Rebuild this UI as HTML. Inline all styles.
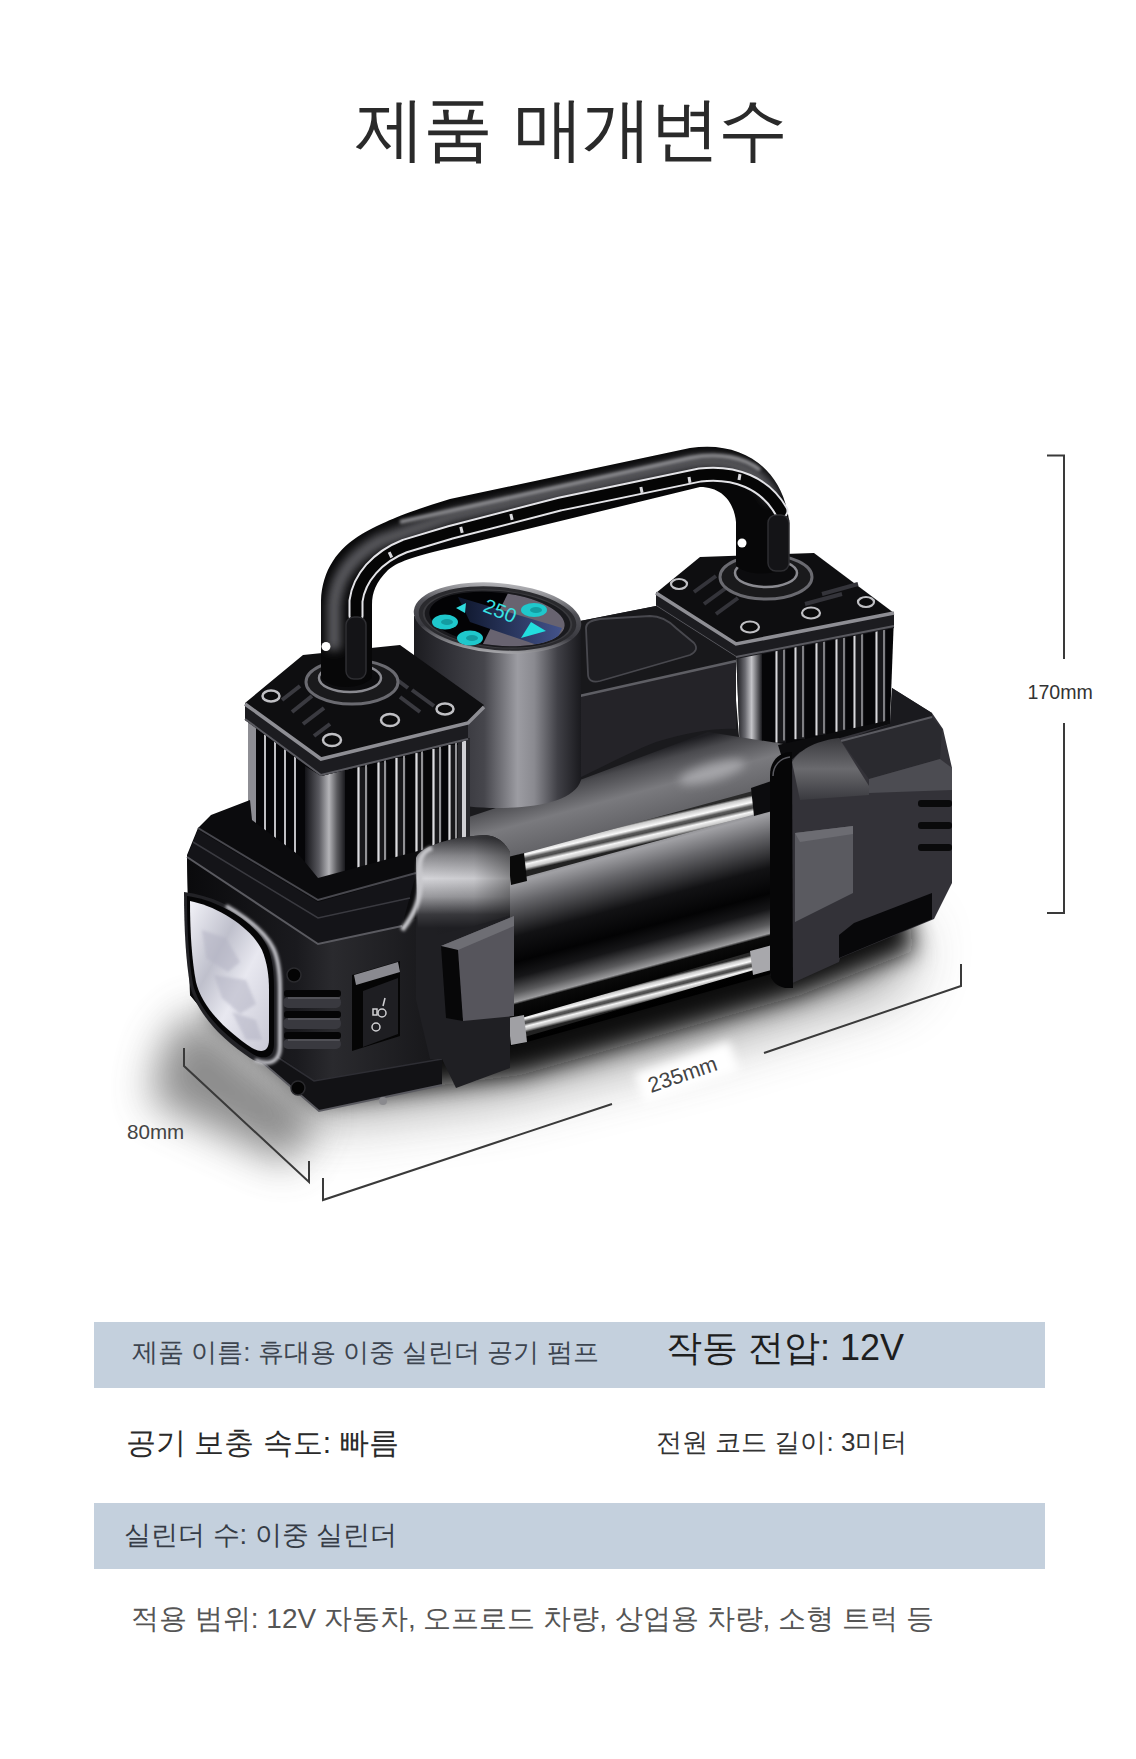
<!DOCTYPE html>
<html><head><meta charset="utf-8">
<style>
html,body{margin:0;padding:0;background:#fff;}
body{width:1136px;height:1759px;position:relative;overflow:hidden;font-family:"Liberation Sans",sans-serif;}
.t{position:absolute;white-space:nowrap;line-height:1;}
#title{left:355px;top:94px;font-size:70px;color:#2a2a2a;letter-spacing:-2px;word-spacing:6px;}
.band{position:absolute;left:94px;width:951px;height:66px;background:#c4d0dd;}
#svg{position:absolute;left:0;top:0;}
</style></head><body>
<svg id="svg" width="1136" height="1759" viewBox="0 0 1136 1759">
<defs>
 <filter id="blur20" x="-50%" y="-50%" width="200%" height="200%"><feGaussianBlur stdDeviation="20"/></filter>
 <filter id="blur30" x="-50%" y="-50%" width="200%" height="200%"><feGaussianBlur stdDeviation="30"/></filter>
 <filter id="blur12" x="-50%" y="-50%" width="200%" height="200%"><feGaussianBlur stdDeviation="12"/></filter>
 <filter id="blur5" x="-50%" y="-50%" width="200%" height="200%"><feGaussianBlur stdDeviation="5"/></filter>
 <filter id="blur2" x="-20%" y="-20%" width="140%" height="140%"><feGaussianBlur stdDeviation="1.5"/></filter>
 <linearGradient id="gGauge" x1="414" y1="0" x2="581" y2="0" gradientUnits="userSpaceOnUse">
  <stop offset="0" stop-color="#1c1c20"/><stop offset="0.2" stop-color="#303036"/><stop offset="0.42" stop-color="#46464c"/>
  <stop offset="0.62" stop-color="#9c9ca2"/><stop offset="0.72" stop-color="#8a8a90"/>
  <stop offset="0.86" stop-color="#404046"/><stop offset="1" stop-color="#1a1a1e"/>
 </linearGradient>
 <linearGradient id="gBezel" x1="0" y1="583" x2="0" y2="653" gradientUnits="userSpaceOnUse">
  <stop offset="0" stop-color="#b4b4b8"/><stop offset="0.35" stop-color="#505056"/><stop offset="0.7" stop-color="#3a3a40"/><stop offset="1" stop-color="#a8a8ac"/>
 </linearGradient>
 <linearGradient id="gPost" x1="0" y1="0" x2="1" y2="0">
  <stop offset="0" stop-color="#bbbbbf"/><stop offset="0.25" stop-color="#333338"/><stop offset="0.6" stop-color="#0c0c0e"/><stop offset="1" stop-color="#2a2a2e"/>
 </linearGradient>
 <pattern id="pFinsR" width="200" height="200" patternUnits="userSpaceOnUse" x="0" y="0">
  <rect width="200" height="200" fill="#070709"/>
 </pattern>
 <linearGradient id="gCyl" x1="615" y1="760" x2="680" y2="1000" gradientUnits="userSpaceOnUse">
  <stop offset="0" stop-color="#1e1e22"/><stop offset="0.05" stop-color="#4a4a4e"/><stop offset="0.15" stop-color="#7a7a7e"/>
  <stop offset="0.3" stop-color="#5e5e62"/><stop offset="0.37" stop-color="#a0a0a4"/><stop offset="0.45" stop-color="#66666a"/>
  <stop offset="0.58" stop-color="#121214"/><stop offset="0.68" stop-color="#030304"/><stop offset="0.74" stop-color="#161618"/>
  <stop offset="0.8" stop-color="#5a5a5c"/><stop offset="0.835" stop-color="#9a9a9c"/><stop offset="0.845" stop-color="#0a0a0a"/><stop offset="0.9" stop-color="#030303"/><stop offset="1" stop-color="#000"/>
 </linearGradient>
 <linearGradient id="gRod" x1="0" y1="0" x2="0" y2="1">
  <stop offset="0" stop-color="#444"/><stop offset="0.2" stop-color="#f0f0f0"/><stop offset="0.45" stop-color="#8a8a8a"/><stop offset="0.65" stop-color="#f8f8f8"/><stop offset="1" stop-color="#2a2a2a"/>
 </linearGradient>
 <linearGradient id="gHandle" x1="0" y1="440" x2="0" y2="560" gradientUnits="userSpaceOnUse">
  <stop offset="0" stop-color="#0a0a0b"/><stop offset="0.3" stop-color="#3a3a3e"/><stop offset="0.55" stop-color="#0a0a0b"/><stop offset="1" stop-color="#050505"/>
 </linearGradient>
 <linearGradient id="gLight" x1="0" y1="0" x2="1" y2="1">
  <stop offset="0" stop-color="#f2f2f8"/><stop offset="0.35" stop-color="#bfc0cc"/><stop offset="0.6" stop-color="#e8e8f0"/><stop offset="1" stop-color="#c8c8d4"/>
 </linearGradient>
 <linearGradient id="gFront" x1="187" y1="0" x2="430" y2="0" gradientUnits="userSpaceOnUse">
  <stop offset="0" stop-color="#0a0a0c"/><stop offset="0.45" stop-color="#1a1a1e"/><stop offset="0.6" stop-color="#2a2a2e"/><stop offset="1" stop-color="#18181b"/>
 </linearGradient>
 <linearGradient id="gBrkTop" x1="0" y1="838" x2="0" y2="928" gradientUnits="userSpaceOnUse">
  <stop offset="0" stop-color="#3a3a3e"/><stop offset="0.2" stop-color="#8a8a8e"/><stop offset="0.45" stop-color="#d4d4d8"/><stop offset="0.65" stop-color="#9a9a9e"/><stop offset="0.85" stop-color="#3a3a3e"/><stop offset="1" stop-color="#1f1f23"/>
 </linearGradient>
 <linearGradient id="gBrkShade" x1="420" y1="0" x2="510" y2="0" gradientUnits="userSpaceOnUse">
  <stop offset="0" stop-color="#000" stop-opacity="0"/><stop offset="0.6" stop-color="#000" stop-opacity="0.05"/><stop offset="1" stop-color="#000" stop-opacity="0.35"/>
 </linearGradient>
 <linearGradient id="gBrkR" x1="0" y1="738" x2="0" y2="800" gradientUnits="userSpaceOnUse">
  <stop offset="0" stop-color="#3a3a3e"/><stop offset="0.5" stop-color="#6a6a6e"/><stop offset="1" stop-color="#3a3a3f"/>
 </linearGradient>
 <linearGradient id="gShadow" x1="0" y1="0" x2="0" y2="1">
  <stop offset="0" stop-color="#000"/><stop offset="1" stop-color="#000" stop-opacity="0"/>
 </linearGradient>
<linearGradient id="gRodU" x1="633.6" y1="822.5" x2="638.8" y2="845" gradientUnits="userSpaceOnUse">
  <stop offset="0" stop-color="#2a2a2a"/><stop offset="0.1" stop-color="#c8c8c8"/><stop offset="0.3" stop-color="#fafafa"/><stop offset="0.45" stop-color="#5a5a5a"/><stop offset="0.55" stop-color="#4a4a4a"/><stop offset="0.7" stop-color="#f6f6f6"/><stop offset="0.86" stop-color="#c8c8c8"/><stop offset="1" stop-color="#222"/>
 </linearGradient>
 <linearGradient id="gRodL" x1="633.5" y1="985" x2="638.3" y2="1004" gradientUnits="userSpaceOnUse">
  <stop offset="0" stop-color="#2a2a2a"/><stop offset="0.12" stop-color="#c8c8c8"/><stop offset="0.3" stop-color="#fafafa"/><stop offset="0.45" stop-color="#5a5a5a"/><stop offset="0.55" stop-color="#4a4a4a"/><stop offset="0.7" stop-color="#f6f6f6"/><stop offset="0.86" stop-color="#b8b8b8"/><stop offset="1" stop-color="#222"/>
 </linearGradient>
<linearGradient id="gScr" x1="455" y1="0" x2="560" y2="0" gradientUnits="userSpaceOnUse"><stop offset="0" stop-color="#0c1428"/><stop offset="1" stop-color="#42528a"/></linearGradient>
<linearGradient id="gCorner" x1="305" y1="0" x2="345" y2="0" gradientUnits="userSpaceOnUse"><stop offset="0" stop-color="#141418"/><stop offset="0.35" stop-color="#5a5a60"/><stop offset="0.6" stop-color="#b4b4b8"/><stop offset="0.8" stop-color="#5a5a5e"/><stop offset="1" stop-color="#1a1a1e"/></linearGradient>
<linearGradient id="gCornerR" x1="736" y1="0" x2="762" y2="0" gradientUnits="userSpaceOnUse"><stop offset="0" stop-color="#141418"/><stop offset="0.35" stop-color="#6a6a70"/><stop offset="0.6" stop-color="#c4c4c8"/><stop offset="1" stop-color="#1a1a1e"/></linearGradient>
</defs>

<!-- floor shadow -->
<g filter="url(#blur30)" opacity="0.6">
 <polygon points="300,1120 500,1095 700,1045 900,985 915,930 320,990" fill="#555"/>
</g>
<g filter="url(#blur20)" opacity="0.75">
 <polygon points="198,1010 320,1112 290,1165 150,1100 165,1040" fill="#666"/>
</g>
<g filter="url(#blur12)">
 <polygon points="205,1010 320,1100 520,1075 800,995 915,950 905,905 320,980" fill="#111"/>
</g>
<!-- dimension lines -->
<g stroke="#3a3a3a" stroke-width="2" fill="none">
 <polyline points="1047,455.5 1064,455.5 1064,659"/>
 <polyline points="1064,723 1064,913 1047,913"/>
 <polyline points="184,1048 184,1066 309,1182 309,1161"/>
 <polyline points="323,1178 323,1200 612,1104"/>
 <polyline points="764,1053 961,986 961,964"/>
</g>
<text x="1027.5" y="698.5" font-family="Liberation Sans" font-size="19.6" fill="#333">170mm</text>
<text x="127" y="1138.5" font-family="Liberation Sans" font-size="20.6" fill="#444">80mm</text>
<g transform="translate(650,1094) rotate(-19)"><rect x="-8" y="-24" width="100" height="32" fill="#fff" filter="url(#blur5)"/></g><text transform="translate(651,1093) rotate(-19)" font-family="Liberation Sans" font-size="21.5" fill="#444">235mm</text>

<!-- ===== right cylinder head ===== -->
<polygon points="736,648 894,616 890,722 775,747 740,748" fill="#060608"/>
<rect x="775" y="649.4" width="11" height="93.2" fill="#18181b"/>
<line x1="776.5" y1="649.4" x2="776.5" y2="742.6" stroke="#d8d8dc" stroke-width="2"/>
<line x1="784" y1="647.2" x2="784" y2="740.6" stroke="#9a9a9e" stroke-width="1.6"/>
<rect x="794" y="645.6" width="11" height="93.5" fill="#18181b"/>
<line x1="795.5" y1="645.6" x2="795.5" y2="739.2" stroke="#d8d8dc" stroke-width="2"/>
<line x1="803" y1="643.5" x2="803" y2="737.2" stroke="#9a9a9e" stroke-width="1.6"/>
<rect x="815" y="641.5" width="11" height="93.9" fill="#18181b"/>
<line x1="816.5" y1="641.5" x2="816.5" y2="735.4" stroke="#d8d8dc" stroke-width="2"/>
<line x1="824" y1="639.4" x2="824" y2="733.4" stroke="#9a9a9e" stroke-width="1.6"/>
<rect x="835" y="637.6" width="11" height="94.2" fill="#18181b"/>
<line x1="836.5" y1="637.6" x2="836.5" y2="731.8" stroke="#d8d8dc" stroke-width="2"/>
<line x1="844" y1="635.4" x2="844" y2="729.8" stroke="#9a9a9e" stroke-width="1.6"/>
<rect x="853" y="634.1" width="11" height="94.5" fill="#18181b"/>
<line x1="854.5" y1="634.1" x2="854.5" y2="728.6" stroke="#d8d8dc" stroke-width="2"/>
<line x1="862" y1="631.9" x2="862" y2="726.6" stroke="#9a9a9e" stroke-width="1.6"/>
<rect x="875" y="629.8" width="11" height="94.8" fill="#18181b"/>
<line x1="876.5" y1="629.8" x2="876.5" y2="724.6" stroke="#d8d8dc" stroke-width="2"/>
<line x1="884" y1="627.6" x2="884" y2="722.6" stroke="#9a9a9e" stroke-width="1.6"/>
<polygon points="736,650 762,645 762,746 740,748" fill="url(#gCornerR)"/>
<!-- right plate -->
<polygon points="656,593 700,557 814,553 894,613 894,628 736,658 656,608" fill="#0e0e10"/>
<polygon points="656,592 736,643 894,612 894,628 736,659 656,608" fill="#1c1c20"/>
<polyline points="656,593 736,644 894,613" fill="none" stroke="#8e8e94" stroke-width="3.5"/>
<polyline points="656,606 736,657 894,626" fill="none" stroke="#5a5a60" stroke-width="2"/>
<g fill="none" stroke="#34343a" stroke-width="4">
 <line x1="694" y1="592" x2="716" y2="576"/><line x1="704" y1="604" x2="726" y2="588"/><line x1="716" y1="614" x2="738" y2="598"/>
 <line x1="822" y1="594" x2="858" y2="584"/><line x1="805" y1="604" x2="842" y2="594"/>
</g>
<g fill="#0a0a0b" stroke="#c0c0c4" stroke-width="2.2">
 <ellipse cx="679" cy="584" rx="8" ry="5"/><ellipse cx="750" cy="627" rx="9" ry="5.5"/><ellipse cx="866" cy="602" rx="8" ry="5"/><ellipse cx="811" cy="613" rx="9" ry="5.5"/>
</g>
<ellipse cx="766" cy="577" rx="46" ry="22" fill="#1a1a1c" stroke="#6a6a70" stroke-width="3"/>
<ellipse cx="766" cy="573" rx="31" ry="14" fill="#0c0c0e" stroke="#8a8a90" stroke-width="2.5"/>

<!-- ===== central cylinder ===== -->
<polygon points="440,790 600,730 736,700 740,748 800,742 800,820 440,880" fill="#1a1a1d"/>
<polygon points="430,830 580,780 708,732 790,745 800,966 520,1044 430,1060" fill="url(#gCyl)"/>

<ellipse cx="712" cy="772" rx="34" ry="9" transform="rotate(-16 712 772)" fill="#c8c8cc" opacity="0.55" filter="url(#blur5)"/>
<!-- ===== middle housing ===== -->
<path d="M575,622 L656,606 L736,657 L736,729 C715,728 690,732 656,742 C630,752 600,768 575,780 Z" fill="#242328"/>
<polygon points="575,622 656,606 736,657 736,661 575,697" fill="#18181b"/>
<path d="M586,628 C586,622 592,620 600,619 L650,616 C660,616 668,620 676,628 L694,643 C698,648 696,652 690,655 L600,681 C592,683 588,680 588,674 Z" fill="#1e1e22" stroke="#48484e" stroke-width="1.8"/>
<line x1="575" y1="697" x2="736" y2="661" stroke="#5e5e64" stroke-width="2.5"/>

<!-- ===== gauge ===== -->
<path d="M414,616 L414,780 C420,800 460,808 497,808 C540,808 575,800 581,780 L581,628 Z" fill="url(#gGauge)"/>
<ellipse cx="497.5" cy="618" rx="84" ry="35" fill="url(#gBezel)" transform="rotate(5 497.5 618)"/>
<ellipse cx="497.5" cy="618.5" rx="79" ry="31.5" fill="#2a2a2e" transform="rotate(5 497.5 618.5)"/>
<ellipse cx="497.5" cy="619" rx="75" ry="29" fill="#3a3a3e" transform="rotate(5 497.5 619)"/>
<ellipse cx="497.5" cy="619" rx="73" ry="28" fill="#1a1a1e" transform="rotate(5 497.5 619)"/>
<clipPath id="cpScr"><ellipse cx="497" cy="619" rx="68" ry="26.5" transform="rotate(6 497 619)"/></clipPath>
<g clip-path="url(#cpScr)">
 <rect x="420" y="585" width="160" height="70" fill="#030305"/>
 <polygon points="512,585 590,585 590,660 475,660" fill="#686370"/>
 <polygon points="458,597 562,628 552,650 470,622" fill="url(#gScr)"/>
</g>
<text transform="translate(482,611) rotate(22)" font-family="Liberation Sans" font-size="20" fill="#3ae4e4">250</text>
<polygon points="521,638 546,631 531,622" fill="#22dede"/>
<polygon points="456,608 466,603 465,613" fill="#30dce0"/>
<g fill="#1fc8cc">
 <ellipse cx="445" cy="622" rx="13" ry="7.5"/><ellipse cx="470" cy="638" rx="13" ry="7.5"/><ellipse cx="534" cy="610" rx="13" ry="7"/>
</g>
<g fill="#0e8a90" opacity="0.7">
 <ellipse cx="447" cy="622" rx="6" ry="3"/><ellipse cx="472" cy="638" rx="6" ry="3"/><ellipse cx="536" cy="610" rx="6" ry="3"/>
</g>

<!-- ===== left cylinder head ===== -->
<polygon points="248,716 321,776 470,738 468,860 402,880 322,900 255,840" fill="#060608"/>
<line x1="254" y1="726.6" x2="254" y2="827.5" stroke="#c0c0c4" stroke-width="2"/>
<line x1="265" y1="734.6" x2="265" y2="837.2" stroke="#c0c0c4" stroke-width="2"/>
<line x1="275" y1="741.9" x2="275" y2="846.0" stroke="#c0c0c4" stroke-width="2"/>
<line x1="285" y1="749.2" x2="285" y2="854.8" stroke="#c0c0c4" stroke-width="2"/>
<line x1="295" y1="756.5" x2="295" y2="863.6" stroke="#c0c0c4" stroke-width="2"/>
<rect x="357" y="767.2" width="11" height="112.3" fill="#18181b"/>
<line x1="358.5" y1="767.2" x2="358.5" y2="879.5" stroke="#dcdce0" stroke-width="2.2"/>
<line x1="366" y1="764.5" x2="366" y2="876.5" stroke="#a0a0a4" stroke-width="1.8"/>
<rect x="377" y="762.3" width="10" height="111.7" fill="#18181b"/>
<line x1="378.5" y1="762.3" x2="378.5" y2="874.1" stroke="#dcdce0" stroke-width="2.2"/>
<line x1="385" y1="759.9" x2="385" y2="871.4" stroke="#a0a0a4" stroke-width="1.8"/>
<rect x="395" y="757.9" width="11" height="111.3" fill="#18181b"/>
<line x1="396.5" y1="757.9" x2="396.5" y2="869.2" stroke="#dcdce0" stroke-width="2.2"/>
<line x1="404" y1="755.3" x2="404" y2="866.2" stroke="#a0a0a4" stroke-width="1.8"/>
<rect x="415" y="753.1" width="9" height="110.7" fill="#18181b"/>
<line x1="416.5" y1="753.1" x2="416.5" y2="863.8" stroke="#dcdce0" stroke-width="2.2"/>
<line x1="422" y1="750.9" x2="422" y2="861.4" stroke="#a0a0a4" stroke-width="1.8"/>
<rect x="432" y="748.9" width="10" height="110.3" fill="#18181b"/>
<line x1="433.5" y1="748.9" x2="433.5" y2="859.2" stroke="#dcdce0" stroke-width="2.2"/>
<line x1="440" y1="746.5" x2="440" y2="856.5" stroke="#a0a0a4" stroke-width="1.8"/>
<rect x="448" y="745.0" width="10" height="109.9" fill="#18181b"/>
<line x1="449.5" y1="745.0" x2="449.5" y2="854.9" stroke="#dcdce0" stroke-width="2.2"/>
<line x1="456" y1="742.6" x2="456" y2="852.2" stroke="#a0a0a4" stroke-width="1.8"/>
<polygon points="305,766 321,776 345,770 345,900 318,900 305,890" fill="url(#gCorner)"/>
<polygon points="248,716 256,722 256,830 248,822" fill="#8e8e94"/>
<polygon points="458,741 470,738 470,860 458,862" fill="#2a2a2e"/>
<line x1="464" y1="740" x2="464" y2="860" stroke="#d0d0d4" stroke-width="4"/>
<!-- left plate -->
<polygon points="245,703 303,655 400,645 484,705 468,722 468,740 321,776 245,720" fill="#0e0e10"/>
<polygon points="245,703 321,758 468,722 468,740 321,776 245,720" fill="#1c1c20"/>
<polyline points="245,704 321,759 468,723 484,707" fill="none" stroke="#8e8e94" stroke-width="3.5"/>
<polyline points="245,719 321,775 468,739" fill="none" stroke="#5a5a60" stroke-width="2"/>
<g fill="none" stroke="#3a3a40" stroke-width="4">
 <line x1="282" y1="700" x2="300" y2="686"/><line x1="292" y1="712" x2="312" y2="696"/><line x1="303" y1="724" x2="324" y2="708"/><line x1="314" y1="736" x2="330" y2="724"/>
 <line x1="400" y1="697" x2="420" y2="712"/><line x1="412" y1="690" x2="434" y2="706"/><line x1="392" y1="676" x2="408" y2="688"/>
</g>
<g fill="#0a0a0b" stroke="#c0c0c4" stroke-width="2.5">
 <ellipse cx="271" cy="696" rx="8.5" ry="5.5"/><ellipse cx="332" cy="740" rx="9" ry="6"/><ellipse cx="445" cy="709" rx="8.5" ry="5.5"/><ellipse cx="390" cy="720" rx="9" ry="6"/>
</g>
<ellipse cx="352" cy="682" rx="46" ry="22" fill="#1a1a1c" stroke="#6a6a70" stroke-width="3"/>
<ellipse cx="350" cy="678" rx="31" ry="14" fill="#0c0c0e" stroke="#8a8a90" stroke-width="2.5"/>

<!-- ===== handle ===== -->
<path d="M321,668 L321,601 C322,570 338,548 362,534 C380,524 400,514 450,499 L690,448 C742,440 782,468 789,520 L789,566 C775,576 748,576 736,566 L736,522 C734,502 722,487 700,487 L450,548 C420,555 400,560 388,570 C376,582 372,592 372,605 L372,678 C360,690 332,690 321,678 Z" fill="#070708"/>
<clipPath id="cpH"><path d="M321,668 L321,601 C322,570 338,548 362,534 C380,524 400,514 450,499 L690,448 C742,440 782,468 789,520 L789,566 C775,576 748,576 736,566 L736,522 C734,502 722,487 700,487 L450,548 C420,555 400,560 388,570 C376,582 372,592 372,605 L372,678 C360,690 332,690 321,678 Z"/></clipPath>
<g clip-path="url(#cpH)">
<path d="M334,650 L334,605 C336,578 352,556 380,541 L452,516 L690,463 C732,456 762,472 774,500" fill="none" stroke="#5a5a5e" stroke-width="14" filter="url(#blur5)"/>
<path d="M400,522 L690,458 C720,452 745,458 760,470" fill="none" stroke="#8a8a8e" stroke-width="4" filter="url(#blur2)"/>
</g>
<path d="M356,616 L356,601 C359,578 377,557 405,546 L450,532.5 L560,504 L700,475 C735,471 765,483 781,511" fill="none" stroke="#e4e4e8" stroke-width="15" stroke-linecap="round"/>
<path d="M356,616 L356,601 C359,578 377,557 405,546 L450,532.5 L560,504 L700,475 C735,471 765,483 781,511" fill="none" stroke="#050505" stroke-width="11" stroke-linecap="round"/>
<g fill="#d8d8dc"><rect x="389" y="552" width="3" height="6" transform="rotate(-25 390 555)"/><rect x="460" y="527" width="3" height="6" transform="rotate(-14 461 530)"/><rect x="510" y="514" width="3" height="6" transform="rotate(-13 511 517)"/><rect x="640" y="487" width="3" height="6" transform="rotate(-12 641 490)"/><rect x="688" y="477" width="3" height="6" transform="rotate(-10 689 480)"/><rect x="738" y="474" width="3" height="6" transform="rotate(10 739 477)"/></g>
<rect x="346" y="617" width="20" height="62" rx="8" fill="#141417" stroke="#2e2e32" stroke-width="1.5"/>
<rect x="768" y="515" width="21" height="56" rx="8" fill="#141417" stroke="#2e2e32" stroke-width="1.5"/>
<circle cx="326" cy="646.5" r="4.5" fill="#fff"/>
<circle cx="742" cy="543" r="4.5" fill="#fff"/>

<!-- ===== left body ===== -->
<polygon points="187,855 198,828 211,815 250,800 252,820 300,856 318,878 466,838 440,860 442,1085 319,1111 204,1012 190,995" fill="#0b0b0d"/>
<polygon points="187,857 318,944 402,926 432,910 442,1059 442,1085 319,1111 204,1012 190,995" fill="url(#gFront)"/>
<polygon points="198,830 318,902 416,874 402,926 318,944 187,857" fill="#141418"/>
<polyline points="198,828 318,900 416,873" fill="none" stroke="#48484e" stroke-width="2"/>
<polyline points="187,857 318,944 402,926" fill="none" stroke="#5a5a60" stroke-width="2"/>
<polyline points="193,842 318,918 410,898" fill="none" stroke="#3a3a40" stroke-width="1.5"/>
<polygon points="200,1000 314,1081 442,1059 442,1085 319,1111 204,1012" fill="#121215"/>
<polyline points="204,1012 319,1111 442,1085" fill="none" stroke="#5a5a60" stroke-width="2"/>
<polyline points="236,1030 314,1081 442,1059" fill="none" stroke="#2e2e34" stroke-width="1.5"/>
<circle cx="383" cy="1101" r="4" fill="#8a8a8e"/>
<!-- light -->
<path d="M184,892 C218,896 258,918 272,944 C279,958 280,975 280,990 L280,1046 C280,1064 266,1068 250,1058 C220,1038 196,1012 190,985 C186,962 184,930 184,892 Z" fill="#222226"/>
<path d="M226,906 C250,920 266,934 273,948 C279,960 280,975 280,990 L280,1046 C280,1062 270,1066 255,1060" fill="none" stroke="#c4c4ca" stroke-width="4" filter="url(#blur2)"/>
<path d="M187,896 C218,900 254,921 267,946 C273,959 274,975 274,990 L274,1044 C274,1058 264,1061 251,1053 C222,1034 199,1010 193,984 C189,962 187,932 187,896 Z" fill="#050506"/>
<path d="M190,901 C216,906 250,926 262,950 C267,962 269,975 269,990 L269,1040 C269,1051 262,1054 252,1048 C225,1030 202,1007 196,982 C192,962 190,932 190,901 Z" fill="url(#gLight)"/>
<g fill="#b4b4c4" opacity="0.55" filter="url(#blur2)">
 <polygon points="202,930 226,938 240,962 228,972 206,958"/>
 <polygon points="214,975 246,980 256,1004 240,1014 222,998"/>
 <polygon points="232,1012 256,1020 262,1040 246,1040"/>
</g>
<!-- vents -->
<g fill="#39393f">
 <rect x="283" y="997" width="58" height="11" rx="5"/><rect x="283" y="1018" width="58" height="11" rx="5"/><rect x="283" y="1039" width="58" height="10" rx="5"/>
</g>
<g fill="#050506">
 <rect x="284" y="990" width="57" height="7" rx="3"/><rect x="284" y="1011" width="57" height="7" rx="3"/><rect x="284" y="1032" width="57" height="7" rx="3"/>
</g>
<g stroke="#6a6a70" stroke-width="1.2">
 <line x1="288" y1="998" x2="340" y2="998"/><line x1="288" y1="1019" x2="340" y2="1019"/><line x1="288" y1="1040" x2="340" y2="1040"/>
</g>
<circle cx="294" cy="975" r="7" fill="#040404" stroke="#2a2a2e" stroke-width="1.5"/>
<circle cx="298" cy="1088" r="7" fill="#040404" stroke="#2a2a2e" stroke-width="1.5"/>
<!-- switch -->
<polygon points="352,975 400,961 400,1036 352,1051" fill="#050505"/>
<polygon points="354,975 398,962 400,972 356,985" fill="#8a8a90"/>
<polygon points="363,991 398,978 398,1034 363,1047" fill="#1e1e22"/>
<g stroke="#cfcfd2" stroke-width="1.5" fill="none">
 <line x1="385" y1="998" x2="383" y2="1006"/><circle cx="382" cy="1013" r="4"/><circle cx="376" cy="1027" r="4"/><rect x="373" y="1009" width="4" height="6"/>
</g>

<!-- ===== rods ===== -->
<polygon points="518,855 753,791 756,814 521,878" fill="url(#gRodU)"/>
<polygon points="518,1019 751,952 754,970 521,1038" fill="url(#gRodL)"/>
<polygon points="508,857 524,853 527,881 511,885" fill="#0a0a0a"/>
<polygon points="751,788 780,778 784,808 754,816" fill="#0c0c0e"/>
<polygon points="508,1018 524,1015 527,1042 511,1045" fill="#a0a0a4"/>
<polygon points="750,951 776,944 779,968 753,975" fill="#a8a8ac"/>

<!-- ===== left bracket ===== -->
<path d="M416,858 C418,850 440,838 484,835 C500,836 506,845 510,852 L510,1068 L456,1088 L442,1059 L430,1059 L416,1000 Z" fill="#1f1f23"/>
<path d="M416,858 C418,850 440,838 484,835 C500,836 506,845 510,852 L510,915 C480,925 440,935 418,940 Z" fill="url(#gBrkTop)"/>
<path d="M416,858 C418,850 440,838 484,835 C500,836 506,845 510,852 L510,915 C480,925 440,935 418,940 Z" fill="url(#gBrkShade)"/>
<path d="M432,848 C420,852 418,862 420,880 C421,900 414,915 402,930" fill="none" stroke="#c8c8cc" stroke-width="5" filter="url(#blur2)"/>
<polygon points="441,946 514,916 514,1016 463,1021" fill="#56555c"/>
<polygon points="441,946 514,916 514,926 458,950" fill="#6e6e74"/>
<polygon points="441,946 458,950 463,1021 446,1018" fill="#070708"/>

<!-- ===== right bracket & end ===== -->
<polygon points="778,745 890,720 900,760 792,790" fill="#0c0c0e"/>
<polygon points="786,765 800,752 840,738 890,724 892,688 932,713 943,729 952,768 952,883 934,919 840,958 839,962 786,986 770,975 772,770" fill="#333238"/>
<polygon points="841,741 890,724 892,688 932,713 932,717" fill="#1a1a1e"/>
<polygon points="841,741 932,717 942,729 940,759 869,779" fill="#2a2a2f"/>
<line x1="841" y1="741" x2="932" y2="717" stroke="#5a5a60" stroke-width="2"/>
<polygon points="869,779 940,759 952,768 952,790 869,793" fill="#4c4c52"/>
<path d="M792,762 C800,748 820,740 839,738 L869,786 L869,795 L800,800 Z" fill="url(#gBrkR)"/>
<polygon points="839,958 932,919 932,893 854,923 839,935" fill="#08080a"/>
<polygon points="795,833 853,826 853,893 795,922" fill="#5a5a60"/>
<polygon points="795,833 853,826 853,834 800,842" fill="#6c6c72"/>
<path d="M770,775 C770,762 778,752 792,752 L793,988 L785,988 C776,986 770,980 770,972 Z" fill="#060607"/><path d="M773,776 C773,766 780,758 790,757" fill="none" stroke="#5a5a60" stroke-width="1.5"/>
<g fill="#0a0a0b">
 <rect x="918" y="800" width="34" height="7" rx="3"/><rect x="918" y="822" width="34" height="7" rx="3"/><rect x="918" y="844" width="34" height="7" rx="3"/>
</g>

</svg>
<div class="t" id="title">제품 매개변수</div>
<div class="band" style="top:1322px"></div>
<div class="band" style="top:1503px"></div>
<div class="t" id="r1a" style="left:132px;top:1339px;font-size:26px;color:#3d4550;">제품 이름: 휴대용 이중 실린더 공기 펌프</div>
<div class="t" id="r1b" style="left:666px;top:1330px;font-size:36px;color:#1e1e1e;">작동 전압: 12V</div>
<div class="t" id="r2a" style="left:126px;top:1428px;font-size:30px;color:#2a2a2a;">공기 보충 속도: 빠름</div>
<div class="t" id="r2b" style="left:656px;top:1429px;font-size:26px;color:#333;">전원 코드 길이: 3미터</div>
<div class="t" id="r3a" style="left:124px;top:1521px;font-size:27.4px;color:#363c46;">실린더 수: 이중 실린더</div>
<div class="t" id="r4a" style="left:131px;top:1605px;font-size:28px;color:#555;">적용 범위: 12V 자동차, 오프로드 차량, 상업용 차량, 소형 트럭 등</div>
</body></html>
